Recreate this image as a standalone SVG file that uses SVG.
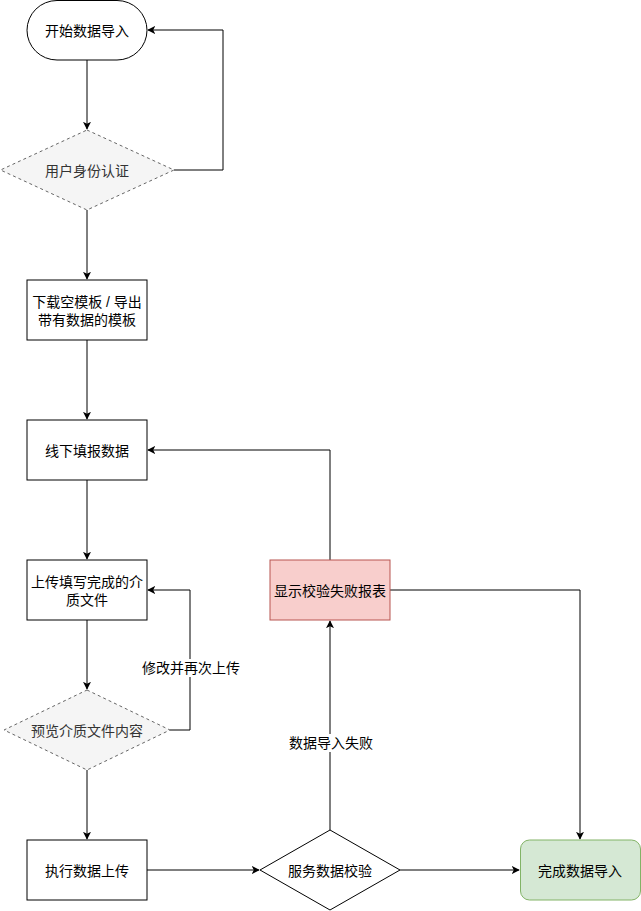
<svg xmlns="http://www.w3.org/2000/svg" width="641" height="911" viewBox="0 0 641 911">
<style>
text{font-family:"Liberation Sans","Noto Sans CJK SC",sans-serif;font-size:14px;fill:#000;text-anchor:middle;dominant-baseline:central}
.box{fill:#fff;stroke:#000;stroke-width:1}
.dia{fill:#f5f5f5;stroke:#666;stroke-dasharray:3 3;stroke-width:1}
.dt{fill:#333}
.edge{fill:none;stroke:#000;stroke-width:1}
</style>
<defs>
<marker id="arr" viewBox="0 0 10 10" refX="9" refY="5" markerWidth="8" markerHeight="8" markerUnits="userSpaceOnUse" orient="auto">
<path d="M0,0 L10,5 L0,10 L2.5,5 Z" fill="#000"/>
</marker>
</defs>
<g id="edges">
<path class="edge" d="M87,60 V129" marker-end="url(#arr)"/>
<path class="edge" d="M174,170 H223 V30 H148" marker-end="url(#arr)"/>
<path class="edge" d="M87,210 V279" marker-end="url(#arr)"/>
<path class="edge" d="M87,340 V419" marker-end="url(#arr)"/>
<path class="edge" d="M87,480 V559" marker-end="url(#arr)"/>
<path class="edge" d="M87,620 V689" marker-end="url(#arr)"/>
<path class="edge" d="M170,730 H190 V590 H148" marker-end="url(#arr)"/>
<path class="edge" d="M87,770 V839" marker-end="url(#arr)"/>
<path class="edge" d="M147,870 H259" marker-end="url(#arr)"/>
<path class="edge" d="M330,830 V621" marker-end="url(#arr)"/>
<path class="edge" d="M330,560 V450 H148" marker-end="url(#arr)"/>
<path class="edge" d="M390,590 H580 V839" marker-end="url(#arr)"/>
<path class="edge" d="M400,870 H519" marker-end="url(#arr)"/>
<rect x="142" y="659" width="98" height="18" fill="#fff"/>
<text x="191" y="668">修改并再次上传</text>
<rect x="289" y="734" width="84" height="18" fill="#fff"/>
<text x="331" y="743">数据导入失败</text>
</g>
<g id="start">
<rect class="box" x="27" y="0.5" width="120" height="59.5" rx="30" ry="30"/>
<text x="87" y="31">开始数据导入</text>
</g>
<g id="auth">
<polygon class="dia" points="87,130 174,170 87,210 0.5,170"/>
<text class="dt" x="87" y="171">用户身份认证</text>
</g>
<g id="download">
<rect class="box" x="27" y="280" width="120" height="60"/>
<text x="87" y="302">下载空模板 / 导出</text>
<text x="87" y="319.5">带有数据的模板</text>
</g>
<g id="fill">
<rect class="box" x="27" y="420" width="120" height="60"/>
<text x="87" y="451">线下填报数据</text>
</g>
<g id="upload">
<rect class="box" x="27" y="560" width="120" height="60"/>
<text x="87" y="582">上传填写完成的介</text>
<text x="87" y="599.5">质文件</text>
</g>
<g id="preview">
<polygon class="dia" points="87,690 170,730 87,770 4,730"/>
<text class="dt" x="87" y="731">预览介质文件内容</text>
</g>
<g id="exec">
<rect class="box" x="27" y="840" width="120" height="60"/>
<text x="87" y="871">执行数据上传</text>
</g>
<g id="validate">
<polygon class="box" points="330,830 400,870 330,910 260,870"/>
<text x="330" y="871">服务数据校验</text>
</g>
<g id="fail">
<rect x="270" y="560" width="120" height="60" fill="#f8cecc" stroke="#b85450"/>
<text x="330" y="591">显示校验失败报表</text>
</g>
<g id="done">
<rect x="520.5" y="840" width="120" height="60" rx="9" ry="9" fill="#d5e8d4" stroke="#82b366"/>
<text x="580" y="871">完成数据导入</text>
</g>
</svg>
